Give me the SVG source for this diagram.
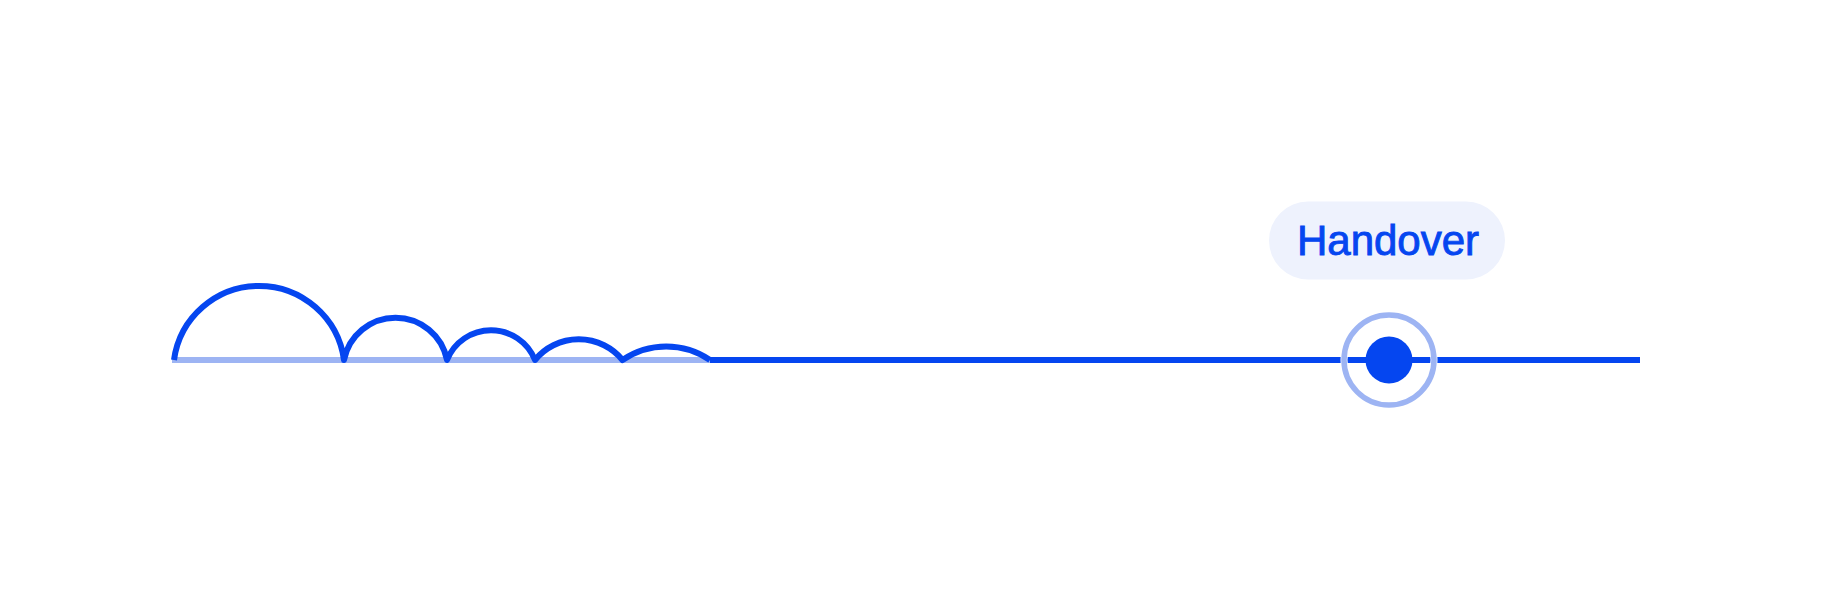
<svg xmlns="http://www.w3.org/2000/svg" width="1848" height="616" viewBox="0 0 1848 616">
  <style>
    .track-light { stroke: #9DB4F3; stroke-width: 6; fill: none; }
    .track-dark { stroke: #0546F0; stroke-width: 6; fill: none; }
    .hop { stroke: #0546F0; stroke-width: 6; fill: none; stroke-linecap: butt; stroke-linejoin: round; }
    .pill { fill: #EEF2FD; }
    .label { font-family: "Liberation Sans", Arial, sans-serif; font-size: 42px; fill: #0546F0; stroke: #0546F0; stroke-width: 0.9; }
    .ring-halo { fill: none; stroke: #FFFFFF; stroke-width: 7; }
    .ring { fill: none; stroke: #9DB4F3; stroke-width: 5.5; }
    .dot { fill: #0546F0; }
  </style>
  <rect width="1848" height="616" fill="#FFFFFF"/>
  <g id="connectors">
    <line class="track-light" x1="172" y1="360" x2="710" y2="360"/>
    <line class="track-dark" x1="710" y1="360" x2="1640" y2="360"/>
    <path class="hop" d="M174 360 A85.8 85.8 0 0 1 344 360 A52.5 52.5 0 0 1 447 360 A47.4 47.4 0 0 1 535 360 A56.6 56.6 0 0 1 622.5 360 A77.6 77.6 0 0 1 710 360"/>
  </g>
  <g id="handover-label">
    <rect class="pill" x="1269" y="201.5" width="236" height="78" rx="39" ry="39"/>
    <text class="label" x="1388" y="255" text-anchor="middle">Handover</text>
  </g>
  <g id="handover-point">
    <circle class="ring-halo" cx="1389" cy="360" r="45"/>
    <circle class="ring" cx="1389" cy="360" r="45"/>
    <circle class="dot" cx="1389" cy="360" r="23.5"/>
  </g>
</svg>
